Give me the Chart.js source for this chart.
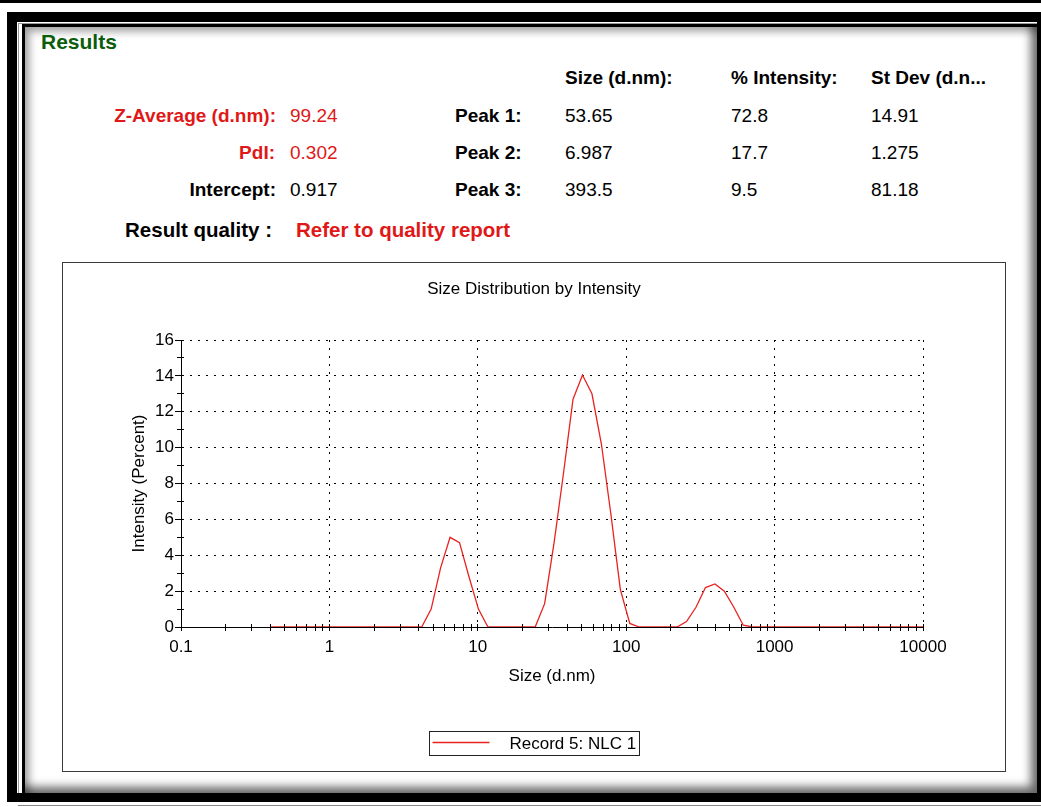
<!doctype html>
<html>
<head>
<meta charset="utf-8">
<title>Results - Size Distribution by Intensity</title>
<script src="https://cdn.jsdelivr.net/npm/chart.js@4.4.1/dist/chart.umd.min.js"></script>
<style>
    html, body { margin:0; padding:0; width:1041px; height:807px; overflow:hidden; background:#fff;
                 font-family:"Liberation Sans", Arial, sans-serif; }
    .blk { position:absolute; background:#000; }
    #gap { position:absolute; left:17px; top:22px; width:1020px; height:771px; background:#fff;
           box-shadow: inset 1px 1px 0 #fff, inset 2px 2px 0 #999; }
    #panel { position:absolute; left:22px; top:24px; width:1015px; height:769px; box-sizing:border-box;
             border-top:3px solid #000; border-left:3px solid #000; background:#fff;
             box-shadow: inset -11px -11px 10px -5px rgba(0,0,0,.6), inset 9px 9px 9px -5px rgba(0,0,0,.4); }
    .t { position:absolute; height:24px; line-height:24px; white-space:nowrap; font-size:19px; color:#000; }
    .b { font-weight:bold; }
    .r { text-align:right; }
    .red { color:#e01818; }
    #chartBox { position:absolute; left:62px; top:262px; width:944px; height:510px; box-sizing:border-box;
                border:1px solid #3a3a3a; background:#fff; }
    #chartBox canvas { display:block; }
</style>
</head>
<body>
    <!-- frame -->
    <div class="blk" style="left:0;top:0;width:1041px;height:3px"></div>
    <div class="blk" style="left:7px;top:12px;width:1034px;height:790px"></div>
    <div id="gap"></div>
    <div id="panel"></div>
    <div class="blk" style="left:18px;top:805px;width:1023px;height:1px;background:#888"></div>

    <!-- results table -->
    <div class="t b" style="left:41px;top:30px;font-size:21px;color:#0b5d0b">Results</div>

    <div class="t b" style="left:565px;top:66px">Size (d.nm):</div>
    <div class="t b" style="left:731px;top:66px">% Intensity:</div>
    <div class="t b" style="left:871px;top:66px">St Dev (d.n...</div>

    <div class="t b r red" style="right:765px;top:104px">Z-Average (d.nm):</div>
    <div class="t red" style="left:290px;top:104px">99.24</div>
    <div class="t b" style="left:455px;top:104px">Peak 1:</div>
    <div class="t" style="left:565px;top:104px">53.65</div>
    <div class="t" style="left:731px;top:104px">72.8</div>
    <div class="t" style="left:871px;top:104px">14.91</div>

    <div class="t b r red" style="right:766px;top:141px">PdI:</div>
    <div class="t red" style="left:290px;top:141px">0.302</div>
    <div class="t b" style="left:455px;top:141px">Peak 2:</div>
    <div class="t" style="left:565px;top:141px">6.987</div>
    <div class="t" style="left:731px;top:141px">17.7</div>
    <div class="t" style="left:871px;top:141px">1.275</div>

    <div class="t b r" style="right:765px;top:178px">Intercept:</div>
    <div class="t" style="left:290px;top:178px">0.917</div>
    <div class="t b" style="left:455px;top:178px">Peak 3:</div>
    <div class="t" style="left:565px;top:178px">393.5</div>
    <div class="t" style="left:731px;top:178px">9.5</div>
    <div class="t" style="left:871px;top:178px">81.18</div>

    <div class="t b r" style="right:769px;top:218px;font-size:20.5px">Result quality :</div>
    <div class="t b red" style="left:296px;top:218px;font-size:20.5px">Refer to quality report</div>

    <!-- chart -->
    <div id="chartBox">
        <canvas id="dist" width="942" height="508"></canvas>
    </div>

<script>
// size classes (d.nm) of the instrument
var sizes = [0.4, 0.4632, 0.5365, 0.6213, 0.7195, 0.8332, 0.9649, 1.117, 1.294, 1.499,
             1.736, 2.010, 2.328, 2.696, 3.122, 3.615, 4.187, 4.849, 5.615, 6.503,
             7.531, 8.721, 10.10, 11.70, 13.54, 15.69, 18.17, 21.04, 24.36, 28.21,
             32.67, 37.84, 43.82, 50.75, 58.77, 68.06, 78.82, 91.28, 105.7, 122.4,
             141.8, 164.2, 190.1, 220.2, 255.0, 295.3, 342.0, 396.1, 458.7, 531.2,
             615.1, 712.4, 825.0, 955.4, 1106, 1281, 1484, 1718, 1990, 2305,
             2669, 3091, 3580, 4145, 4801, 5560, 6439, 7456, 8635, 10000];
// intensity (%)
var intensity = [0, 0, 0, 0, 0, 0, 0, 0, 0, 0,
                 0, 0, 0, 0, 0, 0, 0, 1.0, 3.3, 5.0,
                 4.7, 2.8, 1.0, 0, 0, 0, 0, 0, 0, 1.3,
                 4.7, 8.6, 12.7, 14.05, 13.0, 10.2, 6.3, 2.1, 0.2, 0,
                 0, 0, 0, 0, 0.3, 1.1, 2.2, 2.4, 2.0, 1.1,
                 0.1, 0, 0, 0, 0, 0, 0, 0, 0, 0,
                 0, 0, 0, 0, 0, 0, 0, 0, 0, 0];
var seriesName = 'Record 5: NLC 1';

var xDecades = [0.1, 1, 10, 100, 1000, 10000];
var xTickLabels = ['0.1', '1', '10', '100', '1000', '10000'];
var yTickValues = [0, 1, 2, 3, 4, 5, 6, 7, 8, 9, 10, 11, 12, 13, 14, 15, 16];
var yTickLabels = ['0', '', '2', '', '4', '', '6', '', '8', '', '10', '', '12', '', '14', '', '16'];

var FONT = '"Liberation Sans", Arial, sans-serif';
var txtFont = { family: FONT, size: 17, weight: 'normal' };

// minor ticks 1..9 in every decade
var xTickValues = [];
xDecades.forEach(function (d, i) {
    if (i === xDecades.length - 1) { xTickValues.push(d); return; }
    for (var k = 1; k <= 9; k++) xTickValues.push(Math.round(d * k * 1e6) / 1e6);
});

function decadeIndex(v) {
    return xDecades.findIndex(function (d) { return Math.abs(d - v) < d * 1e-6; });
}

var points = sizes.map(function (s, i) { return { x: s, y: intensity[i] }; });

// small tick marks crossing the axes + boxed legend
var axisMarks = {
    id: 'axisMarks',
    afterDatasetsDraw: function (chart) {
        var ctx = chart.ctx, a = chart.chartArea;
        var x = chart.scales.x, y = chart.scales.y;
        var al = function (p) { return Math.round(p - 0.5) + 0.5; };
        ctx.save();
        ctx.strokeStyle = '#000';
        ctx.lineWidth = 1;
        ctx.beginPath();
        x.ticks.forEach(function (t) {
            var px = al(x.getPixelForValue(t.value));
            ctx.moveTo(px, a.bottom - 3);
            ctx.lineTo(px, a.bottom + 4);
        });
        y.ticks.forEach(function (t) {
            var py = al(y.getPixelForValue(t.value));
            ctx.moveTo(a.left - (t.value % 2 === 0 ? 6 : 4), py);
            ctx.lineTo(a.left + 3, py);
        });
        ctx.stroke();

        var ds = chart.data.datasets[0];
        ctx.font = '17px ' + FONT;
        var tw = ctx.measureText(ds.label).width;
        var w = Math.round(tw + 83), h = 24;
        var lx = Math.round((chart.width - w) / 2) + 0.5, ly = chart.height - 40 + 0.5;
        ctx.strokeStyle = '#222';
        ctx.strokeRect(lx, ly, w, h);
        ctx.strokeStyle = ds.borderColor;
        ctx.lineWidth = ds.borderWidth;
        ctx.beginPath();
        ctx.moveTo(lx + 3, ly + 11);
        ctx.lineTo(lx + 60, ly + 11);
        ctx.stroke();
        ctx.fillStyle = '#000';
        ctx.textBaseline = 'middle';
        ctx.textAlign = 'left';
        ctx.fillText(ds.label, lx + 80, ly + h / 2 + 1);
        ctx.restore();
    }
};

new Chart(document.getElementById('dist'), {
    type: 'line',
    data: {
        datasets: [{
            label: seriesName,
            data: points,
            borderColor: '#e8231f',
            borderWidth: 1.3,
            pointRadius: 0,
            tension: 0,
            fill: false
        }]
    },
    options: {
        responsive: false,
        animation: false,
        layout: { padding: 0 },
        plugins: {
            legend: { display: false },
            tooltip: { enabled: false },
            title: {
                display: true,
                text: 'Size Distribution by Intensity',
                color: '#000',
                font: txtFont,
                padding: { top: 15.8, bottom: 40.8 }
            }
        },
        scales: {
            x: {
                type: 'logarithmic',
                min: 0.1,
                max: 10000,
                afterBuildTicks: function (s) {
                    s.ticks = xTickValues.map(function (v) { return { value: v }; });
                },
                afterFit: function (s) { s.height = 144; },
                ticks: {
                    autoSkip: false,
                    maxRotation: 0,
                    padding: 10,
                    color: '#000',
                    font: txtFont,
                    callback: function (v) {
                        var i = decadeIndex(v);
                        return i < 0 ? '' : xTickLabels[i];
                    }
                },
                grid: {
                    drawTicks: false,
                    lineWidth: 1,
                    color: function (c) {
                        var v = c.tick && c.tick.value;
                        return (decadeIndex(v) > 0) ? '#000' : 'transparent';
                    }
                },
                border: { display: true, color: '#000', width: 1, dash: [2, 6] },
                title: {
                    display: true,
                    text: 'Size (d.nm)',
                    color: '#000',
                    font: txtFont,
                    padding: { top: 0, bottom: 84 }
                }
            },
            y: {
                min: 0,
                max: 16,
                afterBuildTicks: function (s) {
                    s.ticks = yTickValues.map(function (v) { return { value: v }; });
                },
                afterFit: function (s) { s.width = 118; },
                ticks: {
                    autoSkip: false,
                    padding: 7,
                    color: '#000',
                    font: txtFont,
                    callback: function (v) {
                        var i = yTickValues.indexOf(v);
                        return i < 0 ? '' : yTickLabels[i];
                    }
                },
                grid: {
                    drawTicks: false,
                    lineWidth: 1,
                    color: function (c) {
                        var v = c.tick && c.tick.value;
                        return (v > 0 && yTickLabels[yTickValues.indexOf(v)] !== '') ? '#000' : 'transparent';
                    }
                },
                border: { display: true, color: '#000', width: 1, dash: [2, 6] },
                title: {
                    display: true,
                    text: 'Intensity (Percent)',
                    color: '#000',
                    font: txtFont,
                    padding: { top: 66, bottom: 0 }
                }
            },
            // empty right-hand space so the title stays centred on the box
            yRight: {
                position: 'right',
                display: true,
                afterFit: function (s) { s.width = 82; },
                ticks: { display: false },
                grid: { display: false, drawOnChartArea: false },
                border: { display: false }
            }
        }
    },
    plugins: [axisMarks]
});
</script>
</body>
</html>
